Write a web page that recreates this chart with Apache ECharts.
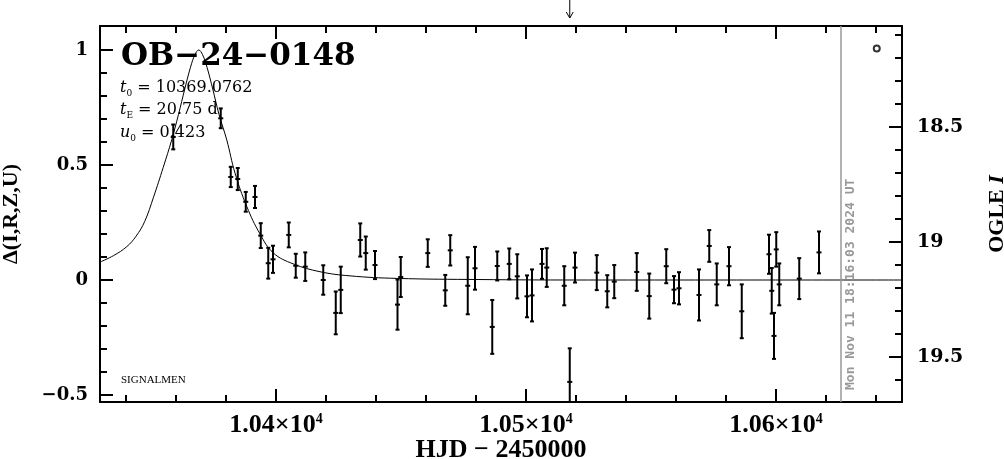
<!DOCTYPE html>
<html><head><meta charset="utf-8">
<script src="https://cdn.jsdelivr.net/npm/echarts@6/dist/echarts.min.js"></script>
<style>html,body{margin:0;padding:0;background:#fff;}#c{width:1004px;height:459px;}</style>
</head><body><div id="c"></div>
<script>
// ---- data ----
const hjd = [10358.9,10377.9,10381.9,10384.7,10387.9,10391.6,10393.9,10396.9,10398.8,10405.1,10407.9,10411.7,10418.9,10423.9,10425.9,10433.7,10435.9,10439.6,10448.6,10449.9,10460.7,10467.7,10469.7,10476.7,10479.6,10486.5,10488.5,10493.3,10496.5,10500.4,10502.4,10506.4,10508.3,10515.3,10517.5,10519.6,10528.3,10532.5,10535.3,10544.3,10549.3,10556.1,10559.2,10561.2,10569.2,10573.3,10576.3,10581.2,10586.3,10597.2,10598.3,10599.2,10600.1,10601.3,10609.3,10617.2];
const delta = [0.622,0.703,0.448,0.439,0.340,0.361,0.193,0.073,0.090,0.196,0.062,0.058,0.000,-0.143,-0.043,0.174,0.117,0.065,-0.107,0.013,0.117,-0.045,0.129,-0.025,0.051,-0.204,0.061,0.070,0.016,-0.071,-0.067,0.070,0.054,-0.025,-0.443,0.054,0.032,-0.049,-0.007,0.035,-0.070,0.060,-0.042,-0.036,-0.065,0.148,-0.019,0.060,-0.136,0.112,-0.047,-0.243,0.133,-0.019,0.006,0.120];
const sigma = [0.054,0.043,0.044,0.048,0.043,0.048,0.054,0.067,0.059,0.054,0.052,0.062,0.064,0.093,0.101,0.072,0.072,0.061,0.109,0.087,0.060,0.067,0.066,0.124,0.093,0.117,0.063,0.067,0.096,0.091,0.113,0.065,0.084,0.085,0.146,0.065,0.076,0.070,0.072,0.082,0.098,0.074,0.059,0.070,0.111,0.069,0.091,0.083,0.117,0.085,0.099,0.100,0.075,0.091,0.089,0.091];
const modelT = [10329.6,10335.0,10340.3,10344.0,10347.5,10351.0,10354.9,10358.3,10361.0,10363.5,10365.8,10367.6,10369.1,10370.6,10372.4,10374.7,10377.2,10380.3,10383.6,10388.3,10393.6,10398.9,10406.9,10417.6,10429.6,10448.3,10481.6,10520.0,10650.4];
const modelD = [0.078,0.106,0.145,0.190,0.255,0.360,0.490,0.610,0.720,0.830,0.925,0.980,1.000,0.980,0.925,0.830,0.720,0.609,0.465,0.320,0.200,0.118,0.070,0.036,0.018,0.007,0.002,0.000,0.000];
const xMajor = [10400,10500,10600];
const xMinor = [10340,10360,10380,10420,10440,10460,10480,10520,10540,10560,10580,10620,10640];
const yMajor = [-0.5,0,0.5,1];
const yMinor = [-0.4,-0.3,-0.2,-0.1,0.1,0.2,0.3,0.4,0.6,0.7,0.8,0.9];
const magMajor = [18.5,19,19.5];
const magMinor = [18.1,18.2,18.3,18.4,18.6,18.7,18.8,18.9,19.1,19.2,19.3,19.4,19.6];
const nowHJD = 10626;
const nowLabel = 'Mon Nov 11 18:16:03 2024 UT';
const arrowHJD = [10517.5];
const ogleMarker = [10640.3, 1.007];
const eventName = 'OB−24−0148';
const t0Text = '10369.0762', tEText = '20.75 d', u0Text = '0.423';
const X_MIN = 10329.6, X_MAX = 10650.4;
const Y_MIN = -0.5304, Y_MAX = 1.1043;
const M_MIN = 18.0609, M_MAX = 19.6957;

// ---- chart ----
const chart = echarts.init(document.getElementById('c'), null, {renderer:'canvas'});
const black = '#000';
function xAx(pos, ticks, len, labels, lineShow) {
  return {
    type:'value', min:X_MIN, max:X_MAX, position:pos, gridIndex:0,
    axisLine:{show:lineShow, onZero:false, lineStyle:{color:black, width:2}},
    axisTick:{show:true, inside:true, length:len, customValues:ticks, lineStyle:{color:black, width:2}},
    axisLabel: labels ? {
      show:true, customValues:xMajor, margin:10,
      formatter: v => '{b|' + (v/1e4).toFixed(2) + '×10}{s|4}',
      rich:{ b:{fontFamily:'Liberation Serif', fontWeight:'bold', fontSize:26, color:black, lineHeight:26, verticalAlign:'bottom'},
             s:{fontFamily:'Liberation Serif', fontWeight:'bold', fontSize:14, color:black, lineHeight:26, verticalAlign:'top', padding:[0,0,10,0]} }
    } : {show:false},
    splitLine:{show:false}
  };
}
function yAx(pos, mn, mx, inv, ticks, len, labelVals, lineShow) {
  return {
    type:'value', min:mn, max:mx, inverse:inv, position:pos, gridIndex:0,
    axisLine:{show:lineShow, onZero:false, lineStyle:{color:black, width:2}},
    axisTick:{show:true, inside:true, length:len, customValues:ticks, lineStyle:{color:black, width:2}},
    axisLabel: labelVals ? {
      show:true, customValues:labelVals, margin: pos==='left'?12:15,
      formatter: v => (v<0 ? '−' + Math.abs(v) : String(v)),
      fontFamily:'DejaVu Serif', fontWeight:'bold', fontSize: pos==='left'?18:19, color:black
    } : {show:false},
    splitLine:{show:false}
  };
}
const xAxes = [
  xAx('bottom', xMajor, 13, true, true),
  xAx('bottom', xMinor, 7, false, false),
  xAx('top', xMajor, 13, false, true),
  xAx('top', xMinor, 7, false, false)
];
xAxes[0].name = 'HJD − 2450000';
xAxes[0].nameLocation = 'middle';
xAxes[0].nameGap = 35;
xAxes[0].nameMoveOverlap = false;
xAxes[0].nameTextStyle = {fontFamily:'Liberation Serif', fontWeight:'bold', fontSize:26, color:black};
const yAxes = [
  yAx('left', Y_MIN, Y_MAX, false, yMajor, 13, yMajor, true),
  yAx('left', Y_MIN, Y_MAX, false, yMinor, 7, null, false),
  yAx('right', M_MIN, M_MAX, true, magMajor, 13, magMajor, true),
  yAx('right', M_MIN, M_MAX, true, magMinor, 7, null, false)
];
yAxes[0].name = 'Δ(I,R,Z,U)';
yAxes[0].nameLocation = 'middle';
yAxes[0].nameGap = 78;
yAxes[0].nameRotate = 90;
yAxes[0].nameMoveOverlap = false;
yAxes[0].nameTextStyle = {fontFamily:'Liberation Serif', fontWeight:'bold', fontSize:22, color:black};
yAxes[2].name = '{b|OGLE }{i|I}';
yAxes[2].nameLocation = 'middle';
yAxes[2].nameGap = 84;
yAxes[2].nameRotate = 90;
yAxes[2].nameMoveOverlap = false;
yAxes[2].nameTextStyle = {color:black, rich:{
  b:{fontFamily:'Liberation Serif', fontWeight:'bold', fontSize:22, color:black},
  i:{fontFamily:'Liberation Serif', fontWeight:'bold', fontStyle:'italic', fontSize:22, color:black}}};

const errData = hjd.map((t,i)=>[t, delta[i], sigma[i]]);
const modelData = modelT.map((t,i)=>[t, modelD[i]]);

const option = {
  backgroundColor:'#fff',
  animation:false,
  grid:{left:100, top:26, width:802, height:376, containLabel:false, outerBoundsMode:'none'},
  xAxis:xAxes, yAxis:yAxes,
  series:[
    {
      type:'line', xAxisIndex:0, yAxisIndex:0, data:modelData, smooth:0.4,
      showSymbol:false, symbol:'none', lineStyle:{color:black, width:1}, clip:true, z:3,
      markLine:{
        silent:true, symbol:['none','none'], animation:false,
        lineStyle:{color:'#999', width:1.5, type:'solid'},
        label:{show:true, formatter:nowLabel, position:'insideStartBottom', distance:[12,3],
               color:'#999', fontFamily:'DejaVu Sans Mono', fontWeight:'bold', fontSize:13},
        data:[{xAxis:nowHJD}]
      }
    },
    {
      type:'custom', xAxisIndex:0, yAxisIndex:0, data:errData, clip:true, z:4,
      renderItem:(params, api)=>{
        const t=api.value(0), d=api.value(1), s=api.value(2);
        const c=api.coord([t,d]), hi=api.coord([t,d+s]), lo=api.coord([t,d-s]);
        const st={stroke:black, lineWidth:2};
        return {type:'group', children:[
          {type:'line', shape:{x1:c[0],y1:hi[1],x2:c[0],y2:lo[1]}, style:st},
          {type:'line', shape:{x1:c[0]-2,y1:hi[1],x2:c[0]+2,y2:hi[1]}, style:st},
          {type:'line', shape:{x1:c[0]-2,y1:lo[1],x2:c[0]+2,y2:lo[1]}, style:st},
          {type:'line', shape:{x1:c[0]-2.5,y1:c[1],x2:c[0]+2.5,y2:c[1]}, style:st}
        ]};
      }
    },
    {
      type:'scatter', xAxisIndex:0, yAxisIndex:0, data:[ogleMarker], symbol:'circle', symbolSize:6,
      itemStyle:{color:'#fff', borderColor:black, borderWidth:2}, z:5
    },
    {
      type:'custom', xAxisIndex:0, yAxisIndex:0, data:arrowHJD.map(t=>[t]), clip:false, z:5,
      renderItem:(params, api)=>{
        const top=api.coord([api.value(0), Y_MAX]);
        const x=top[0], y=top[1];
        const st={stroke:black, lineWidth:1, fill:'none'};
        return {type:'group', children:[
          {type:'line', shape:{x1:x,y1:y-26,x2:x,y2:y-8}, style:st},
          {type:'polyline', shape:{points:[[x-3.5,y-14],[x,y-8],[x+3.5,y-14]]}, style:st}
        ]};
      }
    }
  ],
  graphic:[
    {type:'text', x:121, y:57, style:{text:eventName, font:'bold 31px "DejaVu Serif"', fill:black, verticalAlign:'middle'}},
    {type:'text', x:120, y:88, style:{text:'{t|t}{s|0}{n| = '+t0Text+'}', verticalAlign:'middle', rich:{
      t:{font:'italic 16px "DejaVu Serif"', fill:black, lineHeight:20, verticalAlign:'middle'},
      s:{font:'9px "DejaVu Serif"', fill:black, lineHeight:9, verticalAlign:'bottom'},
      n:{font:'16px "DejaVu Serif"', fill:black, lineHeight:20, verticalAlign:'middle'}}}},
    {type:'text', x:120, y:110, style:{text:'{t|t}{s|E}{n| = '+tEText+'}', verticalAlign:'middle', rich:{
      t:{font:'italic 16px "DejaVu Serif"', fill:black, lineHeight:20, verticalAlign:'middle'},
      s:{font:'9px "DejaVu Serif"', fill:black, lineHeight:9, verticalAlign:'bottom'},
      n:{font:'16px "DejaVu Serif"', fill:black, lineHeight:20, verticalAlign:'middle'}}}},
    {type:'text', x:120, y:133, style:{text:'{t|u}{s|0}{n| = '+u0Text+'}', verticalAlign:'middle', rich:{
      t:{font:'italic 16px "DejaVu Serif"', fill:black, lineHeight:20, verticalAlign:'middle'},
      s:{font:'9px "DejaVu Serif"', fill:black, lineHeight:9, verticalAlign:'bottom'},
      n:{font:'16px "DejaVu Serif"', fill:black, lineHeight:20, verticalAlign:'middle'}}}},
    {type:'text', x:121, y:380, style:{text:'SIGNALMEN', font:'11px "Liberation Serif"', fill:black, verticalAlign:'middle'}}
  ]
};
chart.setOption(option);
</script></body></html>
